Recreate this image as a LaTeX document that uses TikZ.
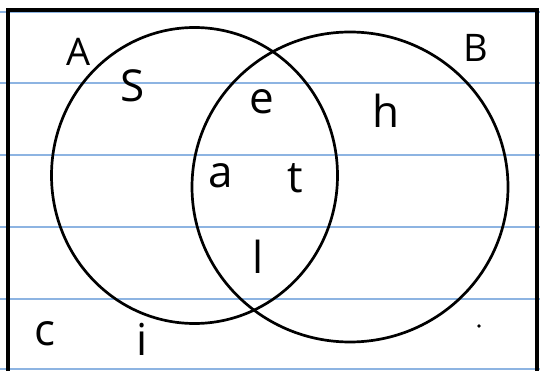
\documentclass[tikz,border=0pt]{standalone}
\usepackage{fontspec}
\setmainfont{Open Sans}
\usepackage{tikz}
\definecolor{Ink}{HTML}{000000}
\definecolor{Rule}{HTML}{8DB4E2}
\tikzset{
  ruleline/.style={draw=Rule, line width=2.8pt},
  frame/.style={draw=Ink, line width=3.4pt},
  setline/.style={draw=Ink, line width=2.7pt},
  setname/.style={font=\fontsize{38}{38}\selectfont, inner sep=0pt},
  element/.style={font=\fontsize{44}{44}\selectfont, inner sep=0pt}
}
\begin{document}
\begin{tikzpicture}[x=1pt, y=-1pt]
  \useasboundingbox (0,0) rectangle (540,371);
  % notebook ruling
  \foreach \ry in {12,83,155,227,299,369}
    \draw[ruleline] (0,\ry) -- (540,\ry);
  \draw[frame] (8,371) -- (8,10) -- (537,10) -- (537,371);

  \draw[setline] (194.5,175.5) ellipse [x radius=143, y radius=148];
  \draw[setline] (350,187) ellipse [x radius=158, y radius=155];

  \node[setname] (nameA) at (79,52) {A};
  \node[setname] (nameB) at (476,48) {B};

  \node[element] (s) at (133,86) {S};
  \node[element] (e) at (262,102) {e};
  \node[element] (h) at (386,111) {h};
  \node[element] (a) at (221,176) {a};
  \node[element] (t) at (295,178) {t};
  \node[element] (l) at (258,257) {l};
  \node[element] (c) at (45,334) {c};
  \node[element] (i) at (142,339) {i};
  \fill[Ink] (479,326) circle (1.8);
\end{tikzpicture}
\end{document}
